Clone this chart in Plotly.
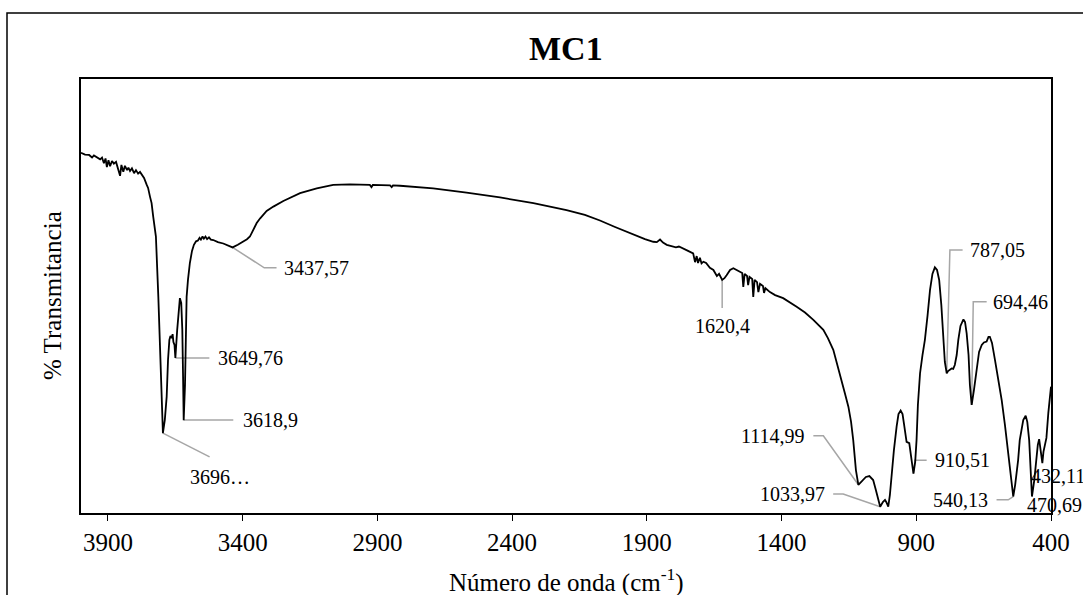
import numpy as np
import plotly.graph_objects as go

# FTIR spectrum of sample MC1 (wavenumber in cm-1, transmittance in %)
wavenumber = [
    4000, 3985, 3970, 3959, 3952, 3941, 3929, 3922, 3915, 3909, 3904, 3898, 3892, 3885,
    3878, 3870, 3863, 3855, 3850, 3843, 3837, 3829, 3824, 3818, 3811, 3803, 3796, 3788,
    3781, 3775, 3766, 3756, 3751, 3744, 3738, 3732, 3722, 3713, 3704, 3699, 3696, 3689,
    3682, 3677, 3672, 3668, 3663, 3660, 3657, 3653, 3649.76, 3643, 3639, 3635, 3633, 3628,
    3624, 3621, 3618.9, 3614, 3610, 3608, 3603, 3596, 3588, 3581, 3573, 3566, 3560, 3555,
    3549, 3544, 3538, 3532, 3525, 3518, 3509, 3492, 3472, 3455, 3437.57, 3418, 3398, 3384,
    3373, 3361, 3348, 3335, 3323, 3311, 3286, 3249, 3187, 3125, 3064, 3002, 2928, 2922, 2917,
    2853, 2847, 2842, 2816, 2693, 2569, 2445, 2321, 2198, 2130, 2074, 2018, 1950, 1907,
    1876, 1863, 1851, 1840, 1826, 1807, 1792, 1781, 1765, 1747, 1728, 1721, 1715, 1710,
    1703, 1697, 1690, 1680, 1666, 1653, 1640, 1632, 1620.4, 1612, 1604, 1591, 1579, 1565,
    1554, 1546, 1542, 1537, 1528, 1524, 1519, 1509, 1505, 1500, 1491, 1486, 1480, 1469,
    1465, 1460, 1443, 1424, 1394, 1369, 1344, 1313, 1282, 1245, 1228, 1208, 1193, 1177,
    1165, 1152, 1142, 1134, 1124, 1114.99, 1105, 1097, 1087, 1074, 1060, 1050, 1041,
    1033.97, 1024, 1016, 1011, 1004, 998, 991, 983, 973, 966, 958, 951, 946, 936, 926,
    918, 910.51, 904, 899, 894, 886, 877, 868, 858, 849, 840, 831, 823, 815, 807, 800,
    794, 787.05, 782, 769, 763, 757, 750, 744, 736, 725, 719, 713, 706, 701, 694.46, 686,
    676, 667, 657, 649, 639, 632, 627, 619, 608, 597, 583, 571, 559, 549, 540.13, 533,
    522, 516, 509, 503, 494, 488, 481, 475, 470.69, 462, 453, 449, 444, 439, 432.11, 428,
    422, 417, 410, 405, 402, 400,
]
transmittance = [
    83.0, 82.6, 82.5, 81.9, 82.4, 82.0, 81.5, 81.9, 80.6, 81.7, 79.7, 81.3, 79.9, 81.1,
    80.5, 80.9, 79.5, 77.7, 80.2, 78.6, 80.0, 79.0, 79.6, 78.8, 79.4, 78.3, 79.0, 78.2,
    78.6, 77.9, 77.2, 75.6, 74.9, 72.9, 71.4, 68.3, 63.7, 49.8, 34.6, 23.7, 18.4, 21.4,
    26.8, 35.3, 39.9, 40.8, 40.3, 41.2, 39.4, 38.7, 35.7, 42.2, 45.2, 48.6, 49.5, 48.4,
    42.2, 30.6, 21.4, 29.5, 44.5, 49.8, 53.7, 57.6, 60.4, 61.8, 62.6, 62.8, 63.4, 63.0,
    63.7, 63.2, 63.7, 63.1, 63.5, 63.0, 62.9, 62.4, 62.1, 61.6, 61.2, 61.8, 62.5, 63.1,
    63.7, 65.3, 66.8, 67.9, 68.8, 69.6, 70.6, 71.9, 73.7, 74.8, 75.6, 75.7, 75.6, 75.1, 75.6,
    75.5, 75.1, 75.5, 75.4, 74.8, 73.8, 72.7, 71.4, 69.8, 68.7, 67.4, 65.9, 64.1, 63.1,
    62.5, 62.4, 63.0, 62.3, 61.8, 61.5, 61.2, 61.4, 61.0, 60.4, 59.8, 57.8, 59.2, 57.6,
    58.8, 57.5, 57.9, 57.6, 56.5, 56.0, 54.6, 55.1, 53.7, 54.1, 54.8, 56.0, 56.4, 55.9,
    55.6, 55.3, 52.1, 55.1, 54.6, 52.5, 54.4, 53.9, 49.8, 53.7, 53.2, 50.9, 52.8, 52.3,
    50.7, 51.8, 50.9, 50.2, 49.5, 48.6, 47.5, 46.2, 44.5, 42.2, 40.3, 37.6, 34.3, 30.6,
    27.6, 24.5, 21.0, 16.8, 9.9, 6.5, 7.1, 7.6, 8.3, 8.5, 7.6, 5.3, 3.0,
    1.45, 2.5, 3.0, 2.5, 1.45, 4.1, 9.1, 14.5, 19.9, 22.8, 23.6, 22.8, 20.7, 16.4, 16.1,
    12.7, 9.1, 11.8, 16.8, 24.9, 32.2, 36.4, 39.9, 45.6, 51.4, 55.1, 56.6, 56.0, 53.7, 47.9, 39.9,
    34.8, 32.2, 32.7, 33.3, 33.2, 34.1, 36.4, 39.9, 43.1, 44.6, 44.0, 41.4, 36.4, 29.5, 24.9, 28.3,
    33.7, 37.1, 38.7, 39.3, 39.5, 40.6, 40.6, 39.2, 35.3, 31.1, 26.0, 20.3, 13.8, 7.1, 3.8, 6.5,
    12.2, 16.8, 19.1, 21.4, 22.4, 21.0, 16.8, 9.9, 3.8, 7.6, 13.0, 15.7, 17.0, 14.5, 11.5, 14.1,
    16.1, 17.3, 23.0, 26.0, 27.6, 29.1,
]

# Labelled bands
peak_wavenumbers = [3696, 3649.76, 3618.9, 3437.57, 1620.4, 1114.99, 1033.97,
                    910.51, 787.05, 694.46, 540.13, 470.69, 432.11]
peak_labels = ["3696…", "3649,76", "3618,9", "3437,57", "1620,4", "1114,99", "1033,97",
               "910,51", "787,05", "694,46", "540,13", "470,69", "432,11"]

x_ticks = [3900, 3400, 2900, 2400, 1900, 1400, 900, 400]

FONT = "Liberation Serif"
W, H = 1083, 595
ML, MR, MT, MB = 81, 32, 79, 82
PW, PH = W - ML - MR, H - MT - MB
X_RANGE = [4000, 400]
Y_RANGE = [0, 100]
LEADER = "#A6A6A6"

# leader path (pixel offsets from the band point), text offset, anchor
label_layout = [
    ([(46.7, 23.7)], (56.7, 44), "center"),
    ([(34, 0)], (41, 0), "left"),
    ([(49.6, 0)], (57, 0), "left"),
    ([(31.7, 20.4), (44, 20.4)], (49, 20.4), "left"),
    ([(0, 28)], (0, 46), "center"),
    ([(-35, -49), (-45, -49)], (-51, -49), "right"),
    ([(-37, -12.7), (-47, -12.7)], (-53, -12.7), "right"),
    ([(1.5, -13.3), (13.2, -13.3)], (20, -13.3), "left"),
    ([(3.2, -123.3), (15.9, -123.3)], (21.5, -123.3), "left"),
    ([(1.6, -103.3), (15, -103.3)], (19.5, -103.3), "left"),
    ([(-5, 3.3), (-16.7, 3.3)], (-23, 3.3), "right"),
    ([], (-7, 8.3), "left"),
    ([], (-13, 13.4), "left"),
]

wn_arr = np.array(wavenumber)
t_arr = np.array(transmittance)
order = np.argsort(wn_arr)

x_per_px = (X_RANGE[1] - X_RANGE[0]) / PW
y_per_px = (Y_RANGE[1] - Y_RANGE[0]) / PH

fig = go.Figure()

annotations = []
for wn, lab, (path, toff, anchor) in zip(peak_wavenumbers, peak_labels, label_layout):
    t = float(np.interp(wn, wn_arr[order], t_arr[order]))
    if path:
        xs = [wn] + [wn + dx * x_per_px for dx, dy in path]
        ys = [t] + [t - dy * y_per_px for dx, dy in path]
        fig.add_trace(go.Scatter(x=xs, y=ys, mode="lines",
                                 line=dict(color=LEADER, width=1.5),
                                 hoverinfo="skip", showlegend=False))
    annotations.append(dict(
        x=wn, y=t, xref="x", yref="y", text=lab, showarrow=False,
        xshift=toff[0], yshift=-toff[1], xanchor=anchor, yanchor="middle",
        font=dict(family=FONT, size=20, color="black"),
    ))

fig.add_trace(go.Scatter(x=wavenumber, y=transmittance, mode="lines",
                         line=dict(color="black", width=1.8),
                         showlegend=False, cliponaxis=True))

annotations += [
    dict(text="<b>MC1</b>", x=0.5, y=(513 - 48) / PH,
         xref="paper", yref="paper", showarrow=False, xanchor="center", yanchor="middle",
         font=dict(family=FONT, size=34, color="black")),
    dict(text="% Transmitancia", x=(52 - ML) / PW, y=0.5, xref="paper", yref="paper",
         showarrow=False, textangle=-90, xanchor="center", yanchor="middle",
         font=dict(family=FONT, size=25, color="black")),
    dict(text="Número de onda (cm<sup>-1</sup>)", x=0.5, y=(513 - 580) / PH,
         xref="paper", yref="paper", showarrow=False, xanchor="center", yanchor="middle",
         font=dict(family=FONT, size=25, color="black")),
]

fig.update_layout(
    width=W, height=H,
    margin=dict(l=ML, r=MR, t=MT, b=MB),
    paper_bgcolor="white", plot_bgcolor="white",
    font=dict(family=FONT, color="black"),
    annotations=annotations,
    shapes=[dict(type="rect", xref="paper", yref="paper",
                 x0=(7 - ML) / PW, x1=1.2, y0=-0.4, y1=(513 - 13) / PH,
                 line=dict(color="black", width=1.5), fillcolor="rgba(0,0,0,0)")],
    xaxis=dict(range=X_RANGE, autorange=False, tickvals=x_ticks,
               ticktext=[str(v) for v in x_ticks], ticks="outside", ticklen=6,
               tickcolor="black", tickwidth=1.2, showline=True, mirror=True,
               linecolor="black", linewidth=1.5, showgrid=False, zeroline=False,
               tickfont=dict(family=FONT, size=25, color="black")),
    yaxis=dict(range=Y_RANGE, autorange=False, showticklabels=False, ticks="",
               showline=True, mirror=True, linecolor="black", linewidth=1.5,
               showgrid=False, zeroline=False),
)

fig.write_html("out.html")
